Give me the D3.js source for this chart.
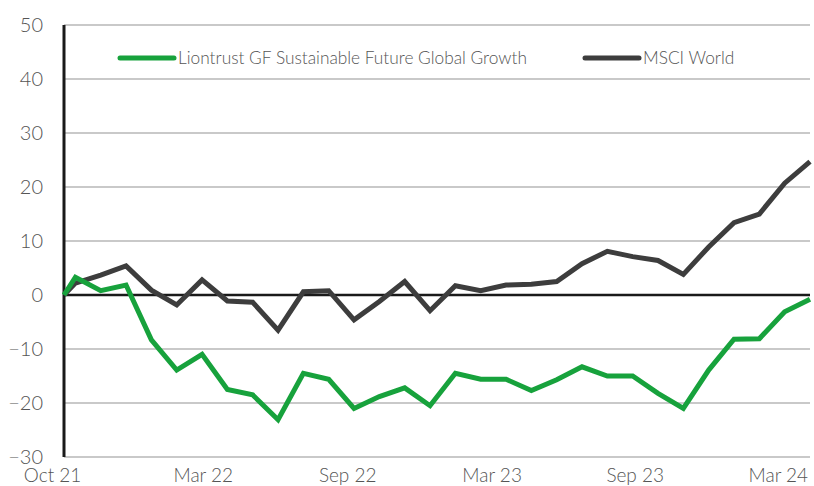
<!DOCTYPE html>
<html>
<head>
    <meta charset="utf-8">
    <title>Liontrust GF Sustainable Future Global Growth vs MSCI World</title>
    <script src="https://cdn.jsdelivr.net/npm/d3@7"></script>
    <style>
        body { margin:0; background:#fff; }
        text { font-family: Lato, "Open Sans", sans-serif; font-weight:300; fill:#555; }
    </style>
</head>
<body>
    <svg id="chart" width="814" height="486"></svg>

    <script>
        // month index: 0 = end Oct 21, first entry is the launch point a little earlier
        var months = [-0.45, 0, 1, 2, 3, 4, 5, 6, 7, 8, 9, 10, 11, 12, 13, 14, 15,
                      16, 17, 18, 19, 20, 21, 22, 23, 24, 25, 26, 27, 28, 29];

        var fund = [0, 3.3, 0.8, 1.85, -8.3, -13.9, -11, -17.5, -18.5, -23.1, -14.5,
                    -15.6, -21, -18.8, -17.2, -20.5, -14.5, -15.6, -15.6, -17.7, -15.7,
                    -13.3, -15, -15, -18.2, -21, -13.9, -8.2, -8.1, -3.1, -0.8];

        var msci = [0, 2.2, 3.7, 5.4, 0.9, -1.85, 2.8, -1.1, -1.35, -6.5, 0.6,
                    0.8, -4.6, -1.2, 2.5, -2.9, 1.7, 0.8, 1.85, 2.0, 2.5,
                    5.8, 8.1, 7.1, 6.4, 3.8, 8.9, 13.4, 15.0, 20.7, 24.7];

        var seriesNames = ["Liontrust GF Sustainable Future Global Growth", "MSCI World"];
        var seriesColors = ["#17a23c", "#3d3d3d"];

        var tickLabels = ["Oct 21", "Mar 22", "Sep 22", "Mar 23", "Sep 23", "Mar 24"];
        var tickAt = [-0.9, 5.05, 10.75, 16.45, 22.1, 27.75];
        var yTicks = [-30, -20, -10, 0, 10, 20, 30, 40, 50];

        var svg = d3.select("#chart");
        var plotL = 64, plotR = 810, plotT = 25, plotB = 457;

        var x = d3.scaleLinear().domain([-0.45, 29]).range([plotL, plotR]);
        var y = d3.scaleLinear().domain([-30, 50]).range([plotB, plotT]);

        // gridlines
        svg.append("g").selectAll("line").data(yTicks).enter().append("line")
            .attr("x1", plotL).attr("x2", plotR)
            .attr("y1", function(d){ return y(d); })
            .attr("y2", function(d){ return y(d); })
            .style("stroke", "#c9c9c9")
            .style("stroke-width", 2);

        // y labels
        var yAxis = d3.axisLeft(y).tickValues(yTicks).tickSize(0).tickPadding(21);
        var gy = svg.append("g").attr("transform", "translate(" + plotL + ",0)").call(yAxis);
        gy.select(".domain").remove();
        gy.selectAll("text")
            .style("font-size", "20px")
            .style("font-family", "Lato, sans-serif")
            .style("font-weight", 300)
            .style("fill", "#555");

        // x labels
        svg.append("g").selectAll("text").data(tickLabels).enter().append("text")
            .attr("x", function(d, i){ return x(tickAt[i]); })
            .attr("y", 482)
            .attr("text-anchor", "middle")
            .style("font-size", "19px")
            .text(function(d){ return d; });

        // zero line and left axis
        svg.append("line")
            .attr("x1", plotL).attr("x2", plotR)
            .attr("y1", y(0)).attr("y2", y(0))
            .style("stroke", "#1a1a1a").style("stroke-width", 2.5);
        svg.append("line")
            .attr("x1", plotL).attr("x2", plotL)
            .attr("y1", plotT).attr("y2", plotB)
            .style("stroke", "#1a1a1a").style("stroke-width", 3);

        var line = d3.line()
            .x(function(d, i){ return x(months[i]); })
            .y(function(d){ return y(d); });

        // MSCI first so the fund line sits on top
        [msci, fund].forEach(function(values, j){
            var idx = j == 0 ? 1 : 0;
            svg.append("path")
                .datum(values)
                .attr("d", line)
                .style("fill", "none")
                .style("stroke", seriesColors[idx])
                .style("stroke-width", 5)
                .style("stroke-linejoin", "miter");
        });

        // legend
        var legendX = [120, 585];
        seriesNames.forEach(function(name, i){
            var g = svg.append("g").attr("transform", "translate(" + legendX[i] + ",58)");
            g.append("line")
                .attr("x1", 0).attr("x2", 54)
                .style("stroke", seriesColors[i])
                .style("stroke-width", 5)
                .style("stroke-linecap", "round");
            g.append("text")
                .attr("x", 58).attr("y", 6)
                .style("font-size", "17.3px")
                .text(name);
        });
    </script>
</body>
</html>
